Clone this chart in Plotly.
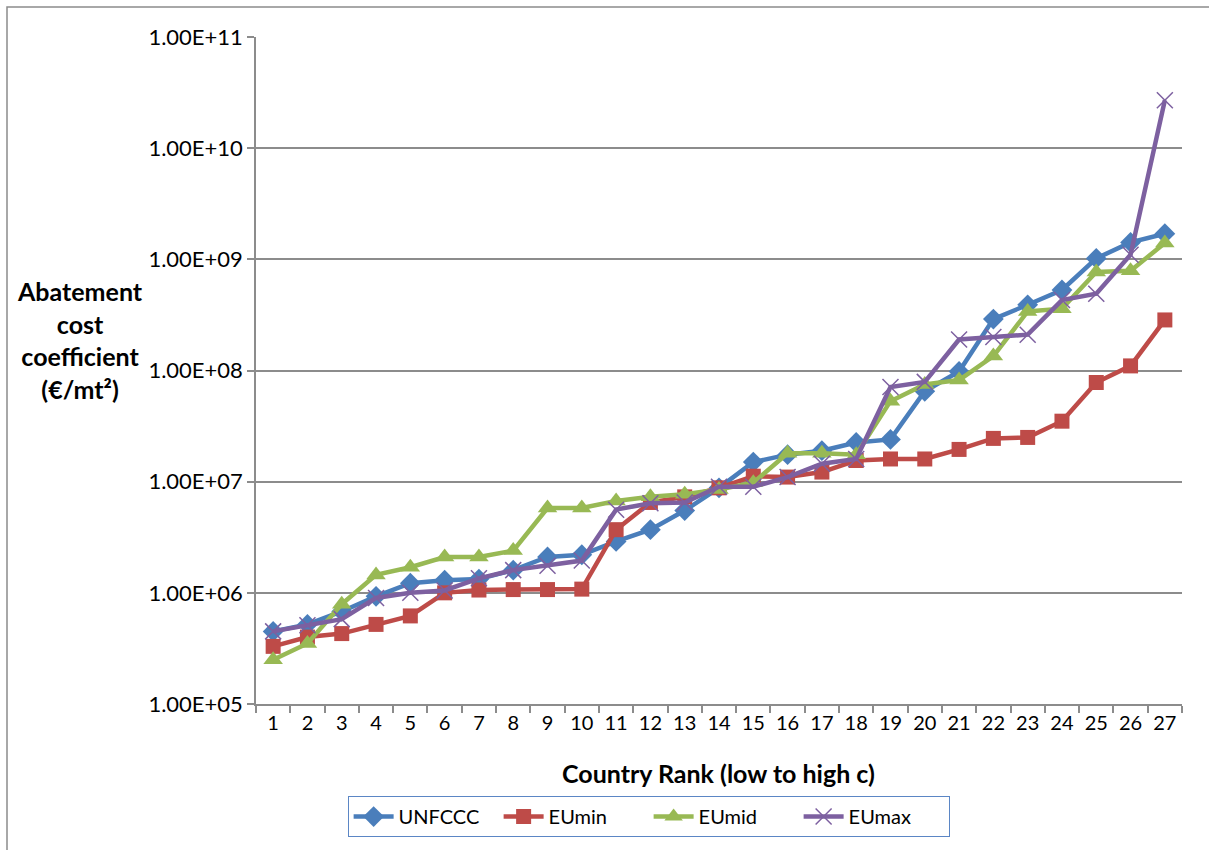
import plotly.graph_objects as go

# Country rank (low to high abatement cost coefficient)
ranks = list(range(1, 28))

unfccc = [4.5e5, 5.2e5, 6.8e5, 9.3e5, 1.22e6, 1.3e6, 1.33e6, 1.6e6, 2.1e6, 2.2e6,
          2.9e6, 3.7e6, 5.5e6, 8.8e6, 1.5e7, 1.75e7, 1.9e7, 2.25e7, 2.4e7, 6.5e7,
          9.8e7, 2.9e8, 3.9e8, 5.3e8, 1.02e9, 1.42e9, 1.7e9]
eumin = [3.3e5, 4.0e5, 4.3e5, 5.2e5, 6.2e5, 1.0e6, 1.06e6, 1.07e6, 1.07e6, 1.08e6,
         3.7e6, 6.5e6, 7.3e6, 8.8e6, 1.12e7, 1.1e7, 1.22e7, 1.55e7, 1.6e7, 1.6e7,
         1.95e7, 2.45e7, 2.5e7, 3.5e7, 7.8e7, 1.1e8, 2.85e8]
eumid = [2.5e5, 3.5e5, 7.9e5, 1.45e6, 1.7e6, 2.1e6, 2.1e6, 2.4e6, 5.8e6, 5.8e6,
         6.7e6, 7.3e6, 7.7e6, 8.5e6, 9.8e6, 1.8e7, 1.8e7, 1.75e7, 5.3e7, 7.5e7,
         8.2e7, 1.35e8, 3.4e8, 3.6e8, 7.7e8, 7.9e8, 1.4e9]
eumax = [4.5e5, 5.1e5, 5.8e5, 9.0e5, 1.0e6, 1.05e6, 1.35e6, 1.6e6, 1.75e6, 1.95e6,
         5.6e6, 6.4e6, 6.5e6, 9.0e6, 9.0e6, 1.1e7, 1.45e7, 1.6e7, 7.1e7, 7.9e7,
         1.9e8, 2.0e8, 2.1e8, 4.3e8, 4.9e8, 1.1e9, 2.7e10]

y_tickvals = [1e5, 1e6, 1e7, 1e8, 1e9, 1e10, 1e11]
y_ticktext = ["1.00E+05", "1.00E+06", "1.00E+07", "1.00E+08",
              "1.00E+09", "1.00E+10", "1.00E+11"]

FONT = "Lato"
GRID = "#8c8c8c"

series = [
    ("UNFCCC", unfccc, "#4a7ebb", dict(symbol="diamond", size=16)),
    ("EUmin", eumin, "#be4b48", dict(symbol="square", size=15)),
    ("EUmid", eumid, "#98b954", dict(symbol="triangle-up", size=17)),
    ("EUmax", eumax, "#7d60a0", dict(symbol="x-thin", size=16,
                                     line=dict(width=1.5, color="#7d60a0"))),
]

fig = go.Figure()
for name, vals, color, marker in series:
    fig.add_trace(go.Scatter(
        x=ranks, y=vals, name=name, mode="lines+markers",
        line=dict(color=color, width=4.5),
        marker=dict(color=color, **marker),
    ))

fig.update_layout(
    width=1209, height=850,
    margin=dict(l=256, r=27, t=37, b=146),
    paper_bgcolor="white", plot_bgcolor="white",
    font=dict(family=FONT, size=20, color="black"),
    showlegend=True,
    legend=dict(
        orientation="h", x=0.424, xanchor="center", y=-0.138, yanchor="top",
        bordercolor="#5b86c5", borderwidth=1, font=dict(size=20, family=FONT),
        itemwidth=40, entrywidth=95,
    ),
)

fig.update_xaxes(
    range=[0.5, 27.5], tickvals=ranks, ticks="", showgrid=False,
    showline=True, linecolor=GRID, linewidth=1.5, zeroline=False,
    tickfont=dict(size=20, family=FONT),
    minor=dict(ticks="outside", ticklen=7, tick0=0.5, dtick=1,
               tickcolor=GRID, tickwidth=1.5, showgrid=False),
)

fig.update_yaxes(
    type="log", range=[5, 11], tickvals=y_tickvals, ticktext=y_ticktext,
    ticks="outside", ticklen=7, tickcolor=GRID, tickwidth=1.5,
    showgrid=True, gridcolor=GRID, gridwidth=1.5,
    showline=True, linecolor=GRID, linewidth=1.5, zeroline=False,
    tickfont=dict(size=22, family=FONT),
)

# Axis titles
fig.add_annotation(
    text="<b>Abatement<br>cost<br>coefficient<br>(€/mt²)</b>",
    xref="paper", yref="paper", x=-0.19, y=0.546, xanchor="center", yanchor="middle",
    showarrow=False, align="center", font=dict(size=25, family=FONT),
)
fig.add_annotation(
    text="<b>Country Rank (low to high c)</b>",
    xref="paper", yref="paper", x=0.499, y=-0.104, xanchor="center", yanchor="middle",
    showarrow=False, font=dict(size=25, family=FONT),
)

# Chart frame
fig.add_shape(
    type="rect", xref="paper", yref="paper",
    x0=(7 - 256) / 926, x1=(1230 - 256) / 926,
    y0=(704 - 870) / 667, y1=(704 - 7) / 667,
    line=dict(color=GRID, width=1.5), layer="below",
)

fig.write_html("out.html")
